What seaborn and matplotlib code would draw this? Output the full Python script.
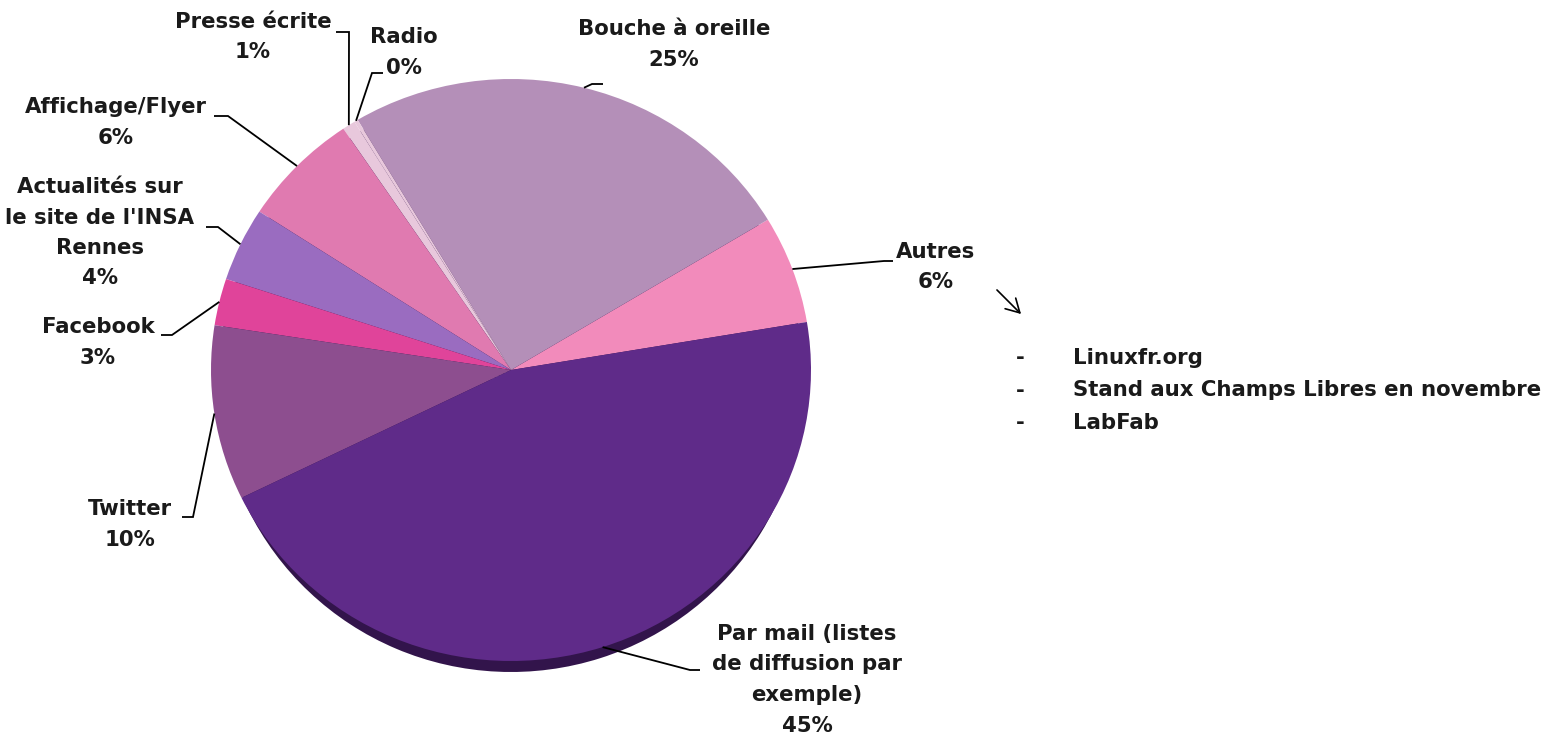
import matplotlib
matplotlib.use("Agg")
import matplotlib.pyplot as plt
import seaborn as sns
import numpy as np

# ---------------- data ----------------
categories = ["Autres", "Bouche à oreille", "Radio", "Presse écrite", "Affichage/Flyer",
              "Actualités sur\nle site de l'INSA\nRennes", "Facebook", "Twitter",
              "Par mail (listes\nde diffusion par\nexemple)"]
values = [6.0, 24.9, 0.2, 0.7, 6.4, 4.1, 2.6, 9.7, 45.4]
colors = ["#F28BBB", "#B48FB8", "#E8C8DC", "#E8C8DC", "#E07AB0",
          "#9A6CC0", "#E0449A", "#8D4E8F", "#5F2B89"]
autres_items = ["Linuxfr.org", "Stand aux Champs Libres en novembre", "LabFab"]

# ---------------- layout (pixels, y down) ----------------
W, H = 1548, 734
start_angle = 9.5
# label: (x center, first line y center), elbow point, end point
label_layout = {
    "Autres": ((936, 252), (884, 261), (893, 261)),
    "Bouche à oreille": ((674, 29), (592, 84), (603, 84)),
    "Radio": ((404, 37), (372, 73), (383, 73)),
    "Presse écrite": ((253, 22), (349, 32), (336, 32)),
    "Affichage/Flyer": ((116, 107), (228, 116), (214, 116)),
    "Actualités sur\nle site de l'INSA\nRennes": ((100, 187), (218, 227), (206, 227)),
    "Facebook": ((98, 327), (172, 335), (161, 335)),
    "Twitter": ((130, 509), (193, 517), (182, 517)),
    "Par mail (listes\nde diffusion par\nexemple)": ((807, 634), (690, 670), (700, 670)),
}
line_step = 30.5
FS = 15.3
TXT = "#1a1a1a"

sns.set_theme(style="white")
plt.rcParams['font.family'] = ['DejaVu Sans']

fig = plt.figure(figsize=(W / 100, H / 100), dpi=100)
fig.patch.set_facecolor("white")


def px_axes(x0, y0, w, h):
    return fig.add_axes([x0 / W, 1 - (y0 + h) / H, w / W, h / H])


# shadow pie (offset down, slightly narrower so it only shows at the bottom)
ax_sh = px_axes(218, 90, 586, 582)
ax_sh.pie(values, colors=["#32144B"] * len(values), startangle=start_angle,
          counterclock=True, radius=1.0, wedgeprops=dict(linewidth=0))
ax_sh.set_aspect("auto")
ax_sh.set_xlim(-1, 1); ax_sh.set_ylim(-1, 1)
ax_sh.axis("off")

# main pie
ax = px_axes(211, 79, 600, 582)
wedges, _ = ax.pie(values, colors=colors, startangle=start_angle,
                   counterclock=True, radius=1.0, wedgeprops=dict(linewidth=0))
ax.set_aspect("auto")
ax.set_xlim(-1, 1); ax.set_ylim(-1, 1)
ax.axis("off")

# overlay in pixel coordinates
ov = fig.add_axes([0, 0, 1, 1], zorder=5)
ov.set_xlim(0, W); ov.set_ylim(H, 0)
ov.patch.set_alpha(0)
ov.axis("off")

fig.canvas.draw()
to_ov = ov.transData.inverted()

cum = np.cumsum([0] + values)
total = sum(values)
for i, cat in enumerate(categories):
    mid = start_angle + 360.0 * (cum[i] + cum[i + 1]) / 2 / total
    th = np.deg2rad(mid)
    disp = ax.transData.transform((np.cos(th), np.sin(th)))
    axp, ayp = to_ov.transform(disp)
    (tx, ty), (ex, ey), (fx, fy) = label_layout[cat]
    ov.plot([axp, ex, fx], [ayp, ey, fy], color="black", lw=1.3,
            solid_joinstyle="miter", solid_capstyle="butt")
    lines = cat.split("\n") + [f"{round(values[i])}%"]
    for k, ln in enumerate(lines):
        ov.text(tx, ty + k * line_step, ln, ha="center", va="center",
                fontsize=FS, fontweight="bold", color=TXT)

# arrow pointing to the list
ov.annotate("", xy=(1023, 316), xytext=(995, 288),
            arrowprops=dict(arrowstyle="->,head_length=0.8,head_width=0.45",
                            color="black", lw=1.2))

for k, item in enumerate(autres_items):
    y = 358 + k * 32.5
    ov.text(1020, y, "-", ha="center", va="center", fontsize=FS,
            fontweight="bold", color=TXT)
    ov.text(1073, y, item, ha="left", va="center", fontsize=FS,
            fontweight="bold", color=TXT)

fig.savefig("out.png", dpi=100, facecolor="white")
